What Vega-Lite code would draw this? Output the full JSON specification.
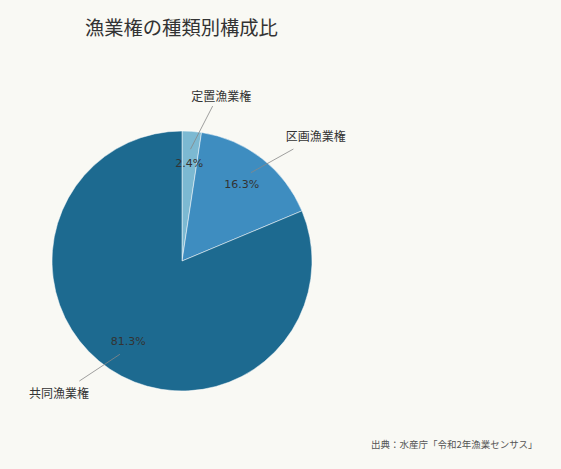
{
  "$schema": "https://vega.github.io/schema/vega-lite/v6.json",
  "width": 260,
  "height": 260,
  "autosize": {"type": "none"},
  "padding": {"left": 52, "top": 131, "right": 249, "bottom": 78},
  "background": "#f9f9f4",
  "config": {"view": {"stroke": null}, "font": "Noto Sans CJK JP"},
  "title": {"text": "漁業権の種類別構成比", "anchor": "start", "frame": "group", "dx": 33, "offset": 52, "fontSize": 19.3, "fontWeight": "normal", "color": "#333333", "font": "Noto Sans CJK JP"},
  "data": {"values": [
    {"type": "定置漁業権", "share": 0.024},
    {"type": "区画漁業権", "share": 0.163},
    {"type": "共同漁業権", "share": 0.813}
  ]},
  "transform": [
    {"window": [{"op": "sum", "field": "share", "as": "cum"}], "sort": [{"field": "share", "order": "ascending"}], "frame": [null, 0]},
    {"calculate": "(datum.cum - datum.share / 2) * 2 * PI", "as": "a"},
    {"calculate": "0.862 * sin(datum.a)", "as": "x1"},
    {"calculate": "0.862 * cos(datum.a)", "as": "y1"},
    {"calculate": "1.215 * sin(datum.a + 0.12)", "as": "x2"},
    {"calculate": "1.215 * cos(datum.a + 0.12)", "as": "y2"},
    {"calculate": "datum.a + 0.16", "as": "a3"},
    {"calculate": "1.245 + 0.215 * abs(sin(datum.a3))", "as": "r3"},
    {"calculate": "datum.r3 * sin(datum.a3)", "as": "lx"},
    {"calculate": "datum.r3 * cos(datum.a3)", "as": "ly"}
  ],
  "layer": [
    {
      "mark": {"type": "arc", "stroke": "#ffffff", "strokeWidth": 0.5},
      "encoding": {
        "theta": {"field": "share", "type": "quantitative", "stack": true},
        "color": {"field": "type", "type": "nominal", "scale": {"domain": ["定置漁業権", "区画漁業権", "共同漁業権"], "range": ["#7cb9d2", "#3e8dc0", "#1d6a90"]}, "legend": null},
        "order": {"field": "share", "type": "quantitative", "sort": "ascending"}
      }
    },
    {
      "mark": {"type": "text", "radius": 97, "fontSize": 11, "color": "#333333", "font": "DejaVu Sans"},
      "encoding": {
        "theta": {"field": "share", "type": "quantitative", "stack": true},
        "detail": {"field": "type", "type": "nominal"},
        "order": {"field": "share", "type": "quantitative", "sort": "ascending"},
        "text": {"field": "share", "type": "quantitative", "format": ".1%"}
      }
    },
    {
      "mark": {"type": "rule", "color": "#888888", "strokeWidth": 0.8},
      "encoding": {
        "x": {"field": "x1", "type": "quantitative", "scale": {"domain": [-1, 1], "nice": false, "zero": false},
              "axis": {"domain": false, "ticks": false, "labels": false, "grid": false, "title": "出典：水産庁「令和2年漁業センサス」", "titleX": 485, "titleY": 53, "titleAlign": "right", "titleBaseline": "middle", "titleFontSize": 9.5, "titleFontWeight": "normal", "titleColor": "#555555", "titleFont": "Noto Sans CJK JP"}},
        "y": {"field": "y1", "type": "quantitative", "scale": {"domain": [-1, 1], "nice": false, "zero": false}, "axis": null},
        "x2": {"field": "x2"},
        "y2": {"field": "y2"}
      }
    },
    {
      "mark": {"type": "text", "fontSize": 12, "color": "#333333", "align": "center", "baseline": "middle", "font": "Noto Sans CJK JP"},
      "encoding": {
        "x": {"field": "lx", "type": "quantitative", "scale": {"domain": [-1, 1], "nice": false, "zero": false},
              "axis": {"domain": false, "ticks": false, "labels": false, "grid": false, "title": "出典：水産庁「令和2年漁業センサス」", "titleX": 485, "titleY": 53, "titleAlign": "right", "titleBaseline": "middle", "titleFontSize": 9.5, "titleFontWeight": "normal", "titleColor": "#555555", "titleFont": "Noto Sans CJK JP"}},
        "y": {"field": "ly", "type": "quantitative", "scale": {"domain": [-1, 1], "nice": false, "zero": false}, "axis": null},
        "text": {"field": "type", "type": "nominal"}
      }
    }
  ]
}
